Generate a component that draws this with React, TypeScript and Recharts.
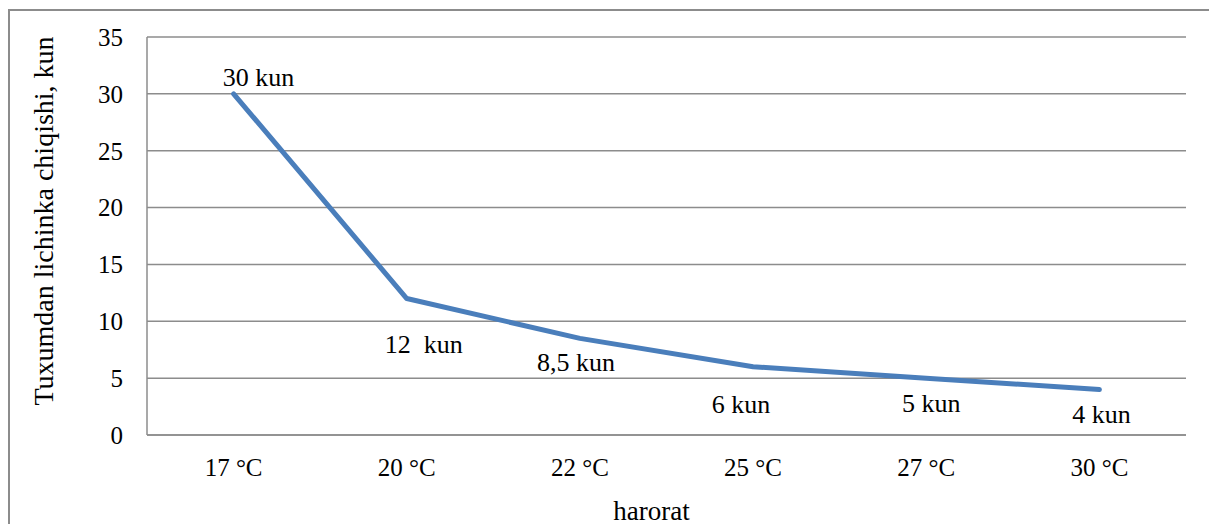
import React from 'react';
import { LineChart, Line, XAxis, YAxis, CartesianGrid, LabelList, Label } from 'recharts';

const categories = ['17 °C', '20 °C', '22 °C', '25 °C', '27 °C', '30 °C'];
const days = [30, 12, 8.5, 6, 5, 4];
const dayLabels = ['30 kun', '12  kun', '8,5 kun', '6 kun', '5 kun', '4 kun'];
const yTicks = [0, 5, 10, 15, 20, 25, 30, 35];

// label nudges relative to each point (dx, baseline dy)
const labelDx = [25, 17, -4, -12, 5, 2];
const labelDy = [-8, 54, 33, 46, 34, 33];

const data = categories.map((c, i) => ({ name: c, value: days[i], label: dayLabels[i] }));

const FONT = '"Liberation Serif", "Times New Roman", serif';
const GRID = '#8c8c8c';

function PointLabel(props: any) {
  const { x, y, index } = props;
  return (
    <text
      x={x + labelDx[index]}
      y={y + labelDy[index]}
      textAnchor="middle"
      fill="#000"
      fontFamily="Liberation Serif"
      style={{ whiteSpace: 'pre', fontFamily: FONT, fontSize: 26 }}
    >
      {dayLabels[index]}
    </text>
  );
}

function YTitle(props: any) {
  const vb = props.viewBox;
  const cx = vb.x + 43;
  const cy = vb.y + vb.height / 2 - 15;
  return (
    <text
      x={cx}
      y={cy}
      transform={`rotate(-90 ${cx} ${cy})`}
      textAnchor="middle"
      dominantBaseline="central"
      fill="#000"
      fontFamily="Liberation Serif"
      style={{ fontFamily: FONT, fontSize: 28 }}
    >
      Tuxumdan lichinka chiqishi, kun
    </text>
  );
}

export default function App() {
  return (
    <div style={{ position: 'absolute', left: 0, top: 0, width: 1209, height: 524, overflow: 'hidden', background: '#fff' }}>
      <div
        style={{
          position: 'absolute',
          left: 8,
          top: 9,
          width: 1300,
          height: 700,
          border: `2px solid ${GRID}`,
        }}
      />
      <LineChart
        width={1209}
        height={524}
        data={data}
        margin={{ top: 37, right: 23, bottom: 0, left: 0 }}
        style={{ position: 'absolute', left: 0, top: 0 }}
      >
        <CartesianGrid vertical={false} stroke={GRID} strokeWidth={1.5} />
        <XAxis
          dataKey="name"
          height={89}
          padding={{ left: 86.6, right: 86.6 }}
          tickLine={false}
          tickSize={0}
          tickMargin={23}
          axisLine={{ stroke: GRID, strokeWidth: 1.5 }}
          tick={{ fontFamily: FONT, fontSize: 25, fill: '#000' }}
        >
          <Label
            value="harorat"
            position="insideBottom"
            offset={4}
            dx={-15}
            style={{ fontFamily: FONT, fontSize: 27, fill: '#000' }}
          />
        </XAxis>
        <YAxis
          width={147}
          domain={[0, 35]}
          ticks={yTicks}
          tickLine={false}
          tickSize={0}
          tickMargin={24}
          axisLine={{ stroke: GRID, strokeWidth: 1.5 }}
          tick={{ fontFamily: FONT, fontSize: 25, fill: '#000' }}
        >
          <Label content={YTitle} />
        </YAxis>
        <Line
          type="linear"
          dataKey="value"
          stroke="#4a7ebb"
          strokeWidth={5}
          strokeLinecap="round"
          strokeLinejoin="round"
          dot={false}
          activeDot={false}
          isAnimationActive={false}
        >
          <LabelList dataKey="label" content={PointLabel} />
        </Line>
      </LineChart>
    </div>
  );
}
